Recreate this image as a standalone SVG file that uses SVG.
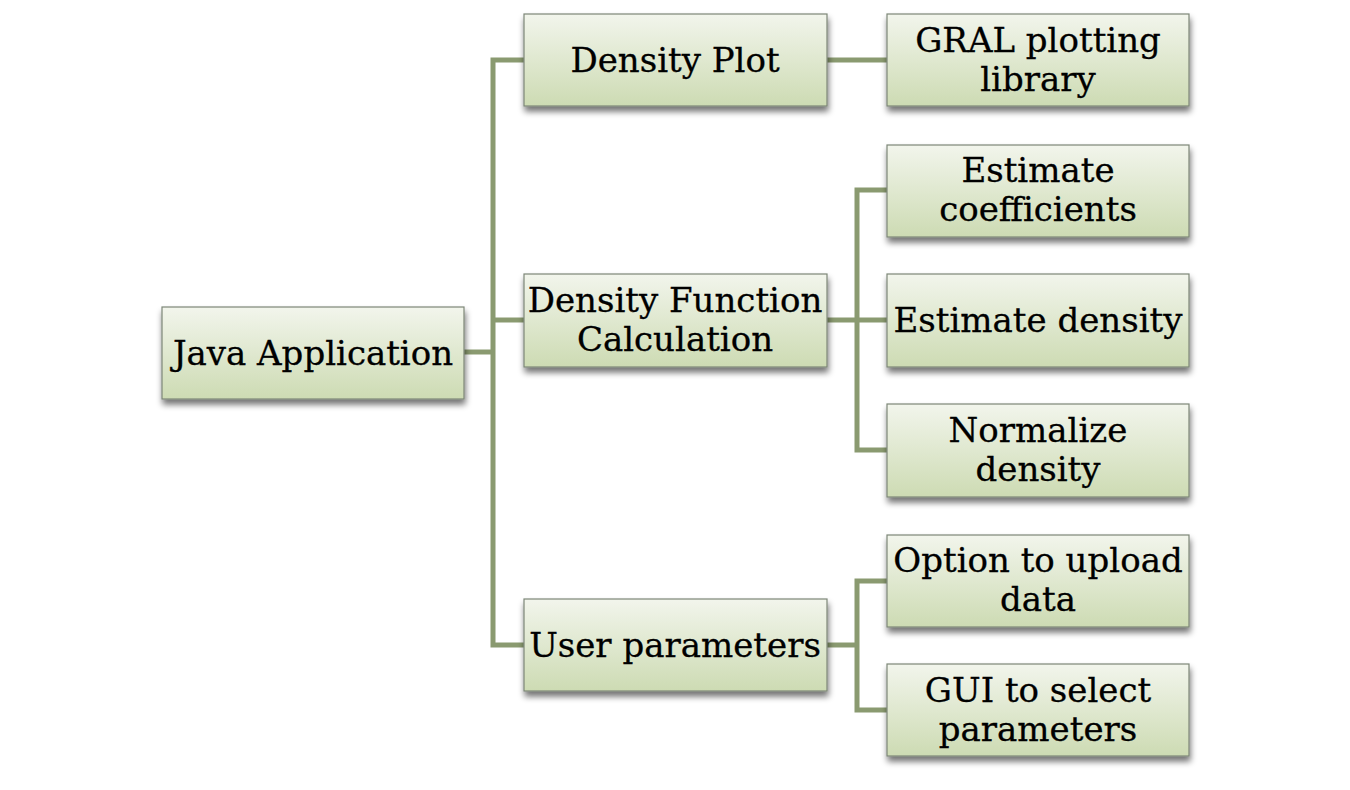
<svg xmlns="http://www.w3.org/2000/svg" width="1350" height="790" viewBox="0 0 1350 790">
<defs>
<linearGradient id="g" x1="0" y1="0" x2="0" y2="1">
<stop offset="0" stop-color="#f2f5ec"/>
<stop offset="1" stop-color="#cddbb3"/>
</linearGradient>
<filter id="sh" x="-10%" y="-20%" width="120%" height="150%">
<feGaussianBlur in="SourceAlpha" stdDeviation="3"/>
<feOffset dx="1" dy="5" result="b"/>
<feComponentTransfer><feFuncA type="linear" slope="0.55"/></feComponentTransfer>
<feMerge><feMergeNode/><feMergeNode in="SourceGraphic"/></feMerge>
</filter>
</defs>
<style>
.box{fill:url(#g);stroke:#7d8677;stroke-width:1.2;filter:url(#sh)}
.t{font-family:"DejaVu Serif","Liberation Serif",serif;font-size:34px;fill:#000;stroke:#000;stroke-width:0.3;text-anchor:middle}
.c{fill:none;stroke:#8a9a70;stroke-width:5;stroke-linejoin:miter}
</style>
<rect width="1350" height="790" fill="#fff"/>
<g id="connectors">
<path class="c" d="M464,352 H493"/>
<path class="c" d="M524,60 H493 V645 H524"/>
<path class="c" d="M493,320 H524"/>
<path class="c" d="M827,60 H887"/>
<path class="c" d="M827,320 H887"/>
<path class="c" d="M887,190 H857 V450 H887"/>
<path class="c" d="M827,645 H857"/>
<path class="c" d="M887,581 H857 V710 H887"/>
</g>
<g id="java">
<rect class="box" x="162" y="307" width="302" height="92"/>
<text class="t" x="313" y="365">Java Application</text>
</g>
<g id="densityplot">
<rect class="box" x="524" y="14" width="303" height="92"/>
<text class="t" x="675" y="72">Density Plot</text>
</g>
<g id="densityfunction">
<rect class="box" x="524" y="274" width="303" height="93"/>
<text class="t" x="675" y="312">Density Function</text>
<text class="t" x="675" y="351">Calculation</text>
</g>
<g id="userparams">
<rect class="box" x="524" y="599" width="303" height="92"/>
<text class="t" x="675" y="657">User parameters</text>
</g>
<g id="gral">
<rect class="box" x="887" y="14" width="302" height="92"/>
<text class="t" x="1038" y="52">GRAL plotting</text>
<text class="t" x="1038" y="91">library</text>
</g>
<g id="coeff">
<rect class="box" x="887" y="145" width="302" height="92"/>
<text class="t" x="1038" y="182">Estimate</text>
<text class="t" x="1038" y="221">coefficients</text>
</g>
<g id="estdensity">
<rect class="box" x="887" y="274" width="302" height="93"/>
<text class="t" x="1038" y="332">Estimate density</text>
</g>
<g id="normalize">
<rect class="box" x="887" y="404" width="302" height="93"/>
<text class="t" x="1038" y="442">Normalize</text>
<text class="t" x="1038" y="481">density</text>
</g>
<g id="upload">
<rect class="box" x="887" y="535" width="302" height="92"/>
<text class="t" x="1038" y="572">Option to upload</text>
<text class="t" x="1038" y="611">data</text>
</g>
<g id="gui">
<rect class="box" x="887" y="664" width="302" height="92"/>
<text class="t" x="1038" y="702">GUI to select</text>
<text class="t" x="1038" y="741">parameters</text>
</g>
</svg>
